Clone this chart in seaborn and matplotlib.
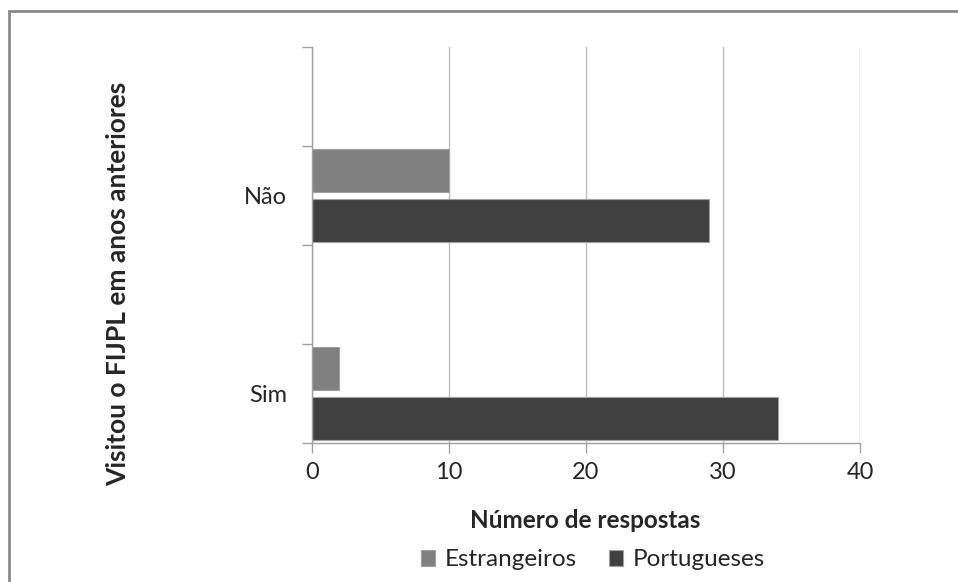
import matplotlib
matplotlib.use("Agg")
import matplotlib.pyplot as plt
from matplotlib.patches import Rectangle
import seaborn as sns
import pandas as pd

# valores
respostas = ["Não", "Sim"]
estrangeiros = [10, 2]
portugueses = [29, 34]
grupos = ["Estrangeiros", "Portugueses"]
cores = ["#808080", "#404040"]
# Excel deixa espacos vazios entre as categorias
slots = ["", "Não", " ", "Sim"]

df = pd.DataFrame({
    "resposta": respostas + respostas,
    "grupo": [grupos[0]] * 2 + [grupos[1]] * 2,
    "n": estrangeiros + portugueses,
})

sns.set_style("white")
plt.rcParams["font.family"] = ["Lato", "DejaVu Sans"]

fig = plt.figure(figsize=(9.58, 5.82), dpi=100)
ax = fig.add_axes([312 / 958, 1 - 443 / 582, 548 / 958, 396 / 582])

sns.barplot(data=df, y="resposta", x="n", hue="grupo", order=slots,
            hue_order=grupos, palette=dict(zip(grupos, cores)), orient="h",
            width=1.0, gap=0.14, saturation=1, edgecolor="#a0a0a0",
            linewidth=0.8, ax=ax)

ax.set_xlim(0, 40)
ax.set_ylim(3.5, -0.5)
ax.set_xticks([0, 10, 20, 30, 40])
ax.set_yticks([-0.5, 0.5, 1.5, 2.5, 3.5], labels=[""] * 5)
ax.set_yticks(range(4), labels=slots, minor=True)
ax.tick_params(axis="y", which="minor", length=0, pad=18, labelsize=17)
ax.tick_params(axis="y", which="major", left=True, length=7, width=1, color="#a0a0a0")
ax.tick_params(axis="x", bottom=True, length=7, width=1, color="#a0a0a0", pad=7, labelsize=17)
ax.xaxis.grid(True, color="#bdbdbd", lw=1)
ax.yaxis.grid(False)
ax.set_axisbelow(True)
for s in ["top", "right"]:
    ax.spines[s].set_visible(False)
for s in ["left", "bottom"]:
    ax.spines[s].set_color("#a0a0a0")
    ax.spines[s].set_linewidth(1)
ax.set_xlabel("")
ax.set_ylabel("")

fig.text(118 / 958, 1 - 284 / 582, "Visitou o FIJPL em anos anteriores", rotation=90,
         ha="center", va="center", fontsize=19, fontweight="bold")
fig.text(585 / 958, 1 - 520 / 582, "Número de respostas", ha="center", va="center",
         fontsize=17.5, fontweight="bold")

sns.move_legend(ax, loc="center", bbox_to_anchor=(593 / 958, 1 - 560 / 582),
                bbox_transform=fig.transFigure, ncol=2, frameon=False, title=None,
                handlelength=0.6, handleheight=0.6, handletextpad=0.4,
                columnspacing=1.3, fontsize=17.5)

fig.add_artist(Rectangle((9 / 958, -0.1), 1.2, 1 - 11 / 582 + 0.1,
                         transform=fig.transFigure, fill=False,
                         edgecolor="#8a8a8a", lw=2, clip_on=False))

fig.savefig("out.png", dpi=100)
